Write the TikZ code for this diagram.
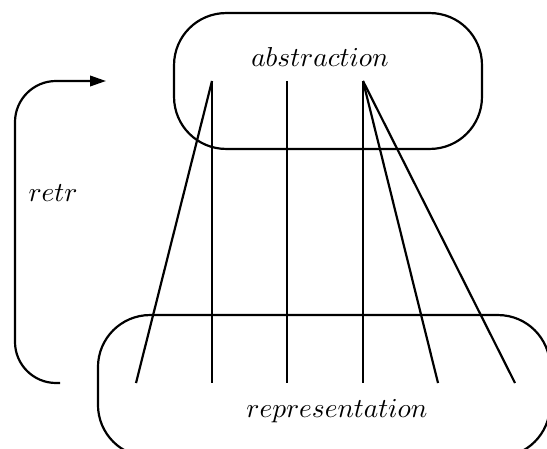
\documentclass[tikz,border=0pt]{standalone}
\usetikzlibrary{arrows.meta}
\begin{document}
\begin{tikzpicture}[x=0.365pt,y=-0.365pt,line width=0.8pt,
  boxnode/.style={draw,rectangle,rounded corners=19pt,inner sep=0pt,outer sep=0pt},
  lbl/.style={inner sep=0pt}]
\clip (0,0) rectangle (547,448);
\fill[white] (0,0) rectangle (547,448);
% boxes
\node[boxnode,minimum width=112.4pt,minimum height=49.6pt] (abs) at (328,81) {};
\node[boxnode,minimum width=165pt,minimum height=51.8pt] (rep) at (324,386) {};
% labels
\node[lbl] (abst) at (320,57) {$abstraction$};
\node[lbl] (rept) at (337,411) {$representation$};
\node[lbl] (retr) at (53,193) {$retr$};
% connector end points
\coordinate (a1) at (212,81);
\coordinate (a2) at (287,81);
\coordinate (a3) at (363,81);
\coordinate (b1) at (136,383);
\coordinate (b2) at (212,383);
\coordinate (b3) at (287,383);
\coordinate (b4) at (363,383);
\coordinate (b5) at (438,383);
\coordinate (b6) at (515,383);
\draw (a1) -- (b1);
\draw (a1) -- (b2);
\draw (a2) -- (b3);
\draw (a3) -- (b4);
\draw (a3) -- (b5);
\draw (a3) -- (b6);
% retr arrow
\coordinate (rs) at (60,383);
\coordinate (rc1) at (15,383);
\coordinate (rc2) at (15,81);
\coordinate (re) at (106,81);
\draw[rounded corners=15pt,-{Triangle[length=5.8pt,width=3.8pt]}] (rs) -- (rc1) -- (rc2) -- (re);
\end{tikzpicture}
\end{document}
